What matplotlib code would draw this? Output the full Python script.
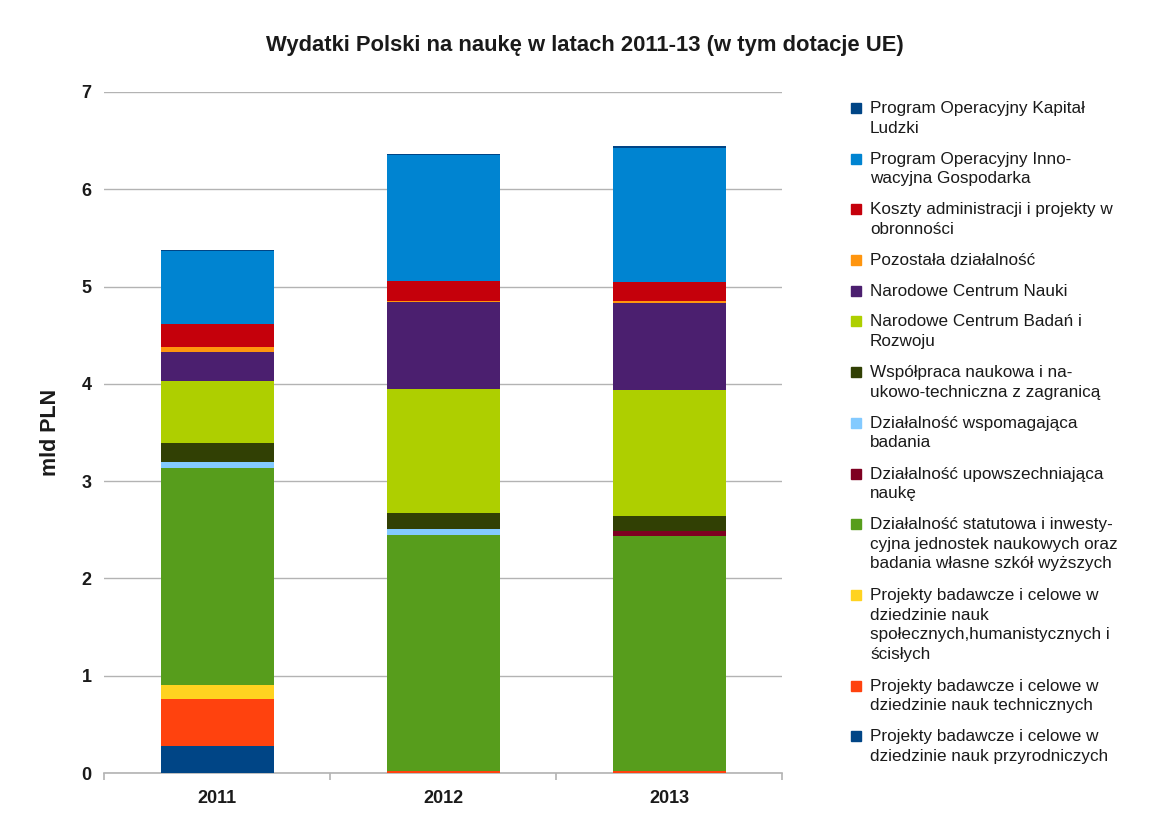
import numpy as np
import matplotlib.pyplot as plt
from matplotlib.patches import Rectangle

plt.rcParams['font.family'] = ['Liberation Sans', 'DejaVu Sans']

years = ['2011', '2012', '2013']

# stacked from bottom to top (mld PLN)
labels = [
    'Projekty badawcze i celowe w\ndziedzinie nauk przyrodniczych',
    'Projekty badawcze i celowe w\ndziedzinie nauk technicznych',
    'Projekty badawcze i celowe w\ndziedzinie nauk\nspołecznych,humanistycznych i\nścisłych',
    'Działalność statutowa i inwesty-\ncyjna jednostek naukowych oraz\nbadania własne szkół wyższych',
    'Działalność upowszechniająca\nnaukę',
    'Działalność wspomagająca\nbadania',
    'Współpraca naukowa i na-\nukowo-techniczna z zagranicą',
    'Narodowe Centrum Badań i\nRozwoju',
    'Narodowe Centrum Nauki',
    'Pozostała działalność',
    'Koszty administracji i projekty w\nobronności',
    'Program Operacyjny Inno-\nwacyjna Gospodarka',
    'Program Operacyjny Kapitał\nLudzki',
]

przyrodnicze = [0.276, 0.0, 0.0]
techniczne = [0.488, 0.02, 0.02]
spoleczne = [0.142, 0.0, 0.0]
statutowa = [2.229, 2.43, 2.417]
upowszechniajaca = [0.0, 0.0, 0.05]
wspomagajaca = [0.064, 0.054, 0.0]
wspolpraca = [0.198, 0.164, 0.156]
ncbr = [0.63, 1.277, 1.29]
ncn = [0.30, 0.895, 0.895]
pozostala = [0.056, 0.008, 0.021]
koszty = [0.234, 0.207, 0.201]
poig = [0.746, 1.294, 1.37]
pokl = [0.015, 0.017, 0.03]

series = [przyrodnicze, techniczne, spoleczne, statutowa, upowszechniajaca,
          wspomagajaca, wspolpraca, ncbr, ncn, pozostala, koszty, poig, pokl]

colors = ['#004586', '#ff420e', '#ffd320', '#579d1c', '#7e0021', '#83caff',
          '#314004', '#aecf00', '#4b1f6f', '#ff950e', '#c5000b', '#0084d1',
          '#004586']

W, H = 1169, 826
fig = plt.figure(figsize=(W / 100, H / 100), dpi=100)
ax = fig.add_axes([104 / W, 1 - 773 / H, 678 / W, 681 / H])

x = np.arange(len(years))
bottom = np.zeros(len(years))
for vals, col, lab in zip(series, colors, labels):
    ax.bar(x, vals, 0.5, bottom=bottom, color=col, label=lab, zorder=3)
    bottom += np.array(vals)

ax.set_xlim(-0.5, 2.5)
ax.set_ylim(0, 7)
ax.set_yticks(range(8))
ax.grid(axis='y', color='#b3b3b3', linewidth=1, zorder=0)
for s in ['top', 'right', 'left']:
    ax.spines[s].set_visible(False)
ax.spines['bottom'].set_color('#b3b3b3')
ax.spines['bottom'].set_linewidth(1.2)
ax.tick_params(axis='y', length=0, pad=9, labelsize=13)
ax.set_xticks(x)
ax.set_xticklabels(years)
ax.set_xticks([-0.5, 0.5, 1.5, 2.5], minor=True)
ax.tick_params(axis='x', which='major', length=0, pad=12, labelsize=13)
ax.tick_params(axis='x', which='minor', length=5, color='#b3b3b3', width=1.2)
for t in ax.get_xticklabels() + ax.get_yticklabels():
    t.set_fontweight('bold')
    t.set_color('#1a1a1a')

ax.set_ylabel('mld PLN', fontsize=15.5, fontweight='bold', labelpad=15,
              color='#1a1a1a')

fig.suptitle('Wydatki Polski na naukę w latach 2011-13 (w tym dotacje UE)',
             fontsize=15.8, fontweight='bold', x=0.5, y=1 - 35 / H,
             color='#1a1a1a')

# legend, top entry = top of stack
ycur = 108
for lab, col in zip(labels[::-1], colors[::-1]):
    fig.patches.append(Rectangle((851 / W, 1 - (ycur + 5) / H), 10 / W, 10 / H,
                                 transform=fig.transFigure, color=col,
                                 figure=fig))
    fig.text(870 / W, 1 - (ycur - 7) / H, lab, fontsize=12.3, va='top',
             ha='left', linespacing=1.38, color='#1a1a1a')
    ycur += 20 * (lab.count('\n') + 1) + 10.7

fig.savefig('out.png', dpi=100)
